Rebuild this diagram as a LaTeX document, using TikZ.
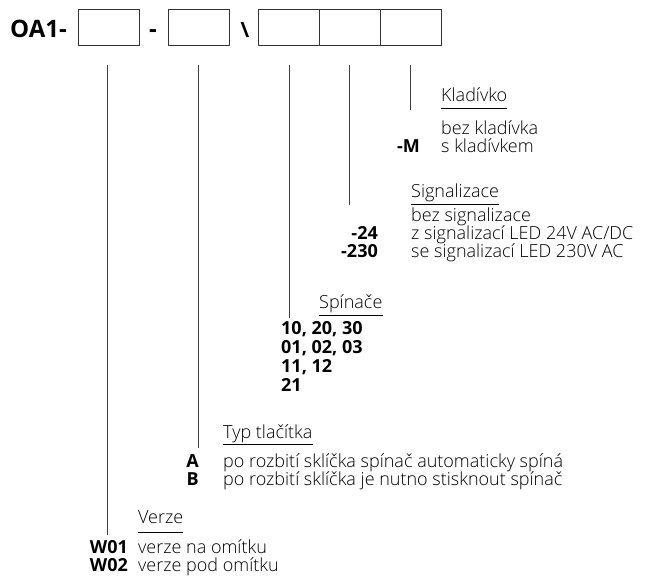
\documentclass[tikz,border=0pt]{standalone}
\usepackage{fontspec}
\setmainfont{Open Sans}
\IfFontExistsTF{Open Sans Light}{\newfontfamily\lightfont{Open Sans Light}}{\newcommand\lightfont{}}
\begin{document}
\begin{tikzpicture}[x=1pt,y=-1pt,
  box/.style={draw=black!80,line width=1pt,minimum width=61pt,minimum height=35.5pt,inner sep=0pt,anchor=north west},
  lead/.style={draw=black!75,line width=1pt},
  txt/.style={anchor=base west,inner sep=0pt,font=\fontsize{18}{20}\selectfont\lightfont},
  num/.style={anchor=base west,inner sep=0pt,font=\fontsize{18}{20}\selectfont\bfseries},
  code/.style={anchor=base east,inner sep=0pt,font=\fontsize{18}{20}\selectfont\bfseries},
  uline/.style={draw=black,line width=0.9pt}]
\useasboundingbox (0,0) rectangle (648,576);
% header
\node[anchor=base west,inner sep=0pt,font=\fontsize{24}{28}\selectfont\bfseries] (oa) at (10,37) {OA1-};
\node[box] (b1) at (77.5,9) {};
\node[anchor=base,inner sep=0pt,font=\fontsize{24}{28}\selectfont\bfseries] (d1) at (153,37) {-};
\node[box] (b2) at (168,9) {};
\node[anchor=base,inner sep=0pt,font=\fontsize{21}{28}\selectfont\bfseries] (bs) at (245,37) {\textbackslash};
\node[box] (b3) at (258,9) {};
\node[box] (b4) at (319,9) {};
\node[box] (b5) at (380,9) {};
% leaders
\coordinate (t1) at (107,65); \coordinate (e1) at (107,535);
\coordinate (t2) at (198,65); \coordinate (e2) at (198,448);
\coordinate (t3) at (289,65); \coordinate (e3) at (289,318);
\coordinate (t4) at (349,65); \coordinate (e4) at (349,205);
\coordinate (t5) at (410,65); \coordinate (e5) at (410,110);
\draw[lead] (t1) -- (e1);
\draw[lead] (t2) -- (e2);
\draw[lead] (t3) -- (e3);
\draw[lead] (t4) -- (e4);
\draw[lead] (t5) -- (e5);
% Kladivko
\node[txt] (hk) at (441,101) {Kladívko};
\draw[uline] ([yshift=-7pt]hk.base west) -- ([yshift=-7pt]hk.base east);
\node[txt] (k1) at (441,134) {bez kladívka};
\node[txt] (k2) at (441,152) {s kladívkem};
\node[code] (ck2) at (420,152) {-M};
% Signalizace
\node[txt] (hs) at (411,197) {Signalizace};
\draw[uline] ([yshift=-7pt]hs.base west) -- ([yshift=-7pt]hs.base east);
\node[txt] (s1) at (411,221.5) {bez signalizace};
\node[txt] (s2) at (411,239.5) {z signalizací LED 24V AC/DC};
\node[txt] (s3) at (411,257.5) {se signalizací LED 230V AC};
\node[code] (cs2) at (378,239.5) {-24};
\node[code] (cs3) at (378,257.5) {-230};
% Spinace
\node[txt] (hp) at (319,308) {Spínače};
\draw[uline] ([yshift=-7pt]hp.base west) -- ([yshift=-7pt]hp.base east);
\node[num] (p1) at (281,334) {10, 20, 30};
\node[num] (p2) at (281,353) {01, 02, 03};
\node[num] (p3) at (281,372) {11, 12};
\node[num] (p4) at (281,391) {21};
% Typ tlacitka
\node[txt] (ht) at (223,438) {Typ tlačítka};
\draw[uline] ([yshift=-6pt]ht.base west) -- ([yshift=-6pt]ht.base east);
\node[txt] (t1t) at (223,467) {po rozbití sklíčka spínač automaticky spíná};
\node[txt] (t2t) at (223,485) {po rozbití sklíčka je nutno stisknout spínač};
\node[code] (ca) at (199,467) {A};
\node[code] (cb) at (199,485) {B};
% Verze
\node[txt] (hv) at (138,523) {Verze};
\draw[uline] ([yshift=-9pt]hv.base west) -- ([yshift=-9pt]hv.base east);
\node[txt] (v1) at (138,553.5) {verze na omítku};
\node[txt] (v2) at (138,571.5) {verze pod omítku};
\node[code] (cv1) at (128,553.5) {W01};
\node[code] (cv2) at (128,571.5) {W02};
\end{tikzpicture}
\end{document}
